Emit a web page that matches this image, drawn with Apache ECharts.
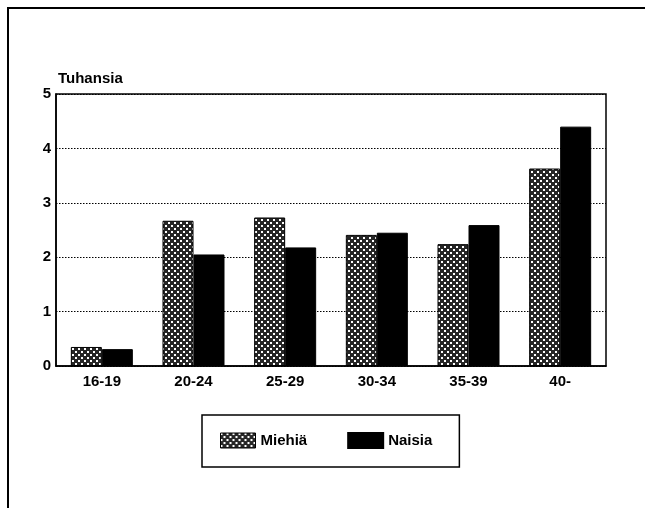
<!DOCTYPE html>
<html>
<head>
<meta charset="utf-8">
<script src="https://cdn.jsdelivr.net/npm/echarts@6/dist/echarts.min.js"></script>
<style>
html,body{margin:0;padding:0;background:#fff;}
#c{width:645px;height:508px;}
</style>
</head>
<body>
<div id="c"></div>
<script>
const categories = ['16-19', '20-24', '25-29', '30-34', '35-39', '40-'];
const miehia = [0.35, 2.67, 2.73, 2.41, 2.24, 3.63];
const naisia = [0.31, 2.05, 2.18, 2.45, 2.59, 4.40];
const yTicks = [0, 1, 2, 3, 4, 5];

function makePattern() {
  const cv = document.createElement('canvas');
  cv.width = 6; cv.height = 6;
  const ctx = cv.getContext('2d');
  ctx.fillStyle = '#262626';
  ctx.fillRect(0, 0, 6, 6);
  ctx.fillStyle = '#fff';
  ctx.fillRect(0, 0, 2, 2);
  ctx.fillRect(3, 3, 2, 2);
  return cv;
}
const pat = makePattern();
const font = '"Liberation Sans", Arial, Helvetica, sans-serif';

const chart = echarts.init(document.getElementById('c'), null, {renderer: 'canvas'});
chart.setOption({
  animation: false,
  backgroundColor: '#fff',
  graphic: [{
    type: 'rect',
    shape: {x: 8, y: 8, width: 700, height: 600},
    style: {fill: 'none', stroke: '#000', lineWidth: 2}
  }],
  grid: {left: 56, right: 39, top: 94, bottom: 142, show: true, borderColor: '#000', borderWidth: 1.5, backgroundColor: 'transparent'},
  legend: {
    left: 202, top: 415,
    orient: 'horizontal',
    icon: 'rect',
    itemWidth: 35, itemHeight: 15, itemGap: 40,
    padding: [17, 27, 18, 18],
    borderColor: '#000', borderWidth: 1.5,
    textStyle: {fontFamily: font, fontWeight: 'bold', fontSize: 15, color: '#000'},
    data: [{name: 'Miehiä', itemStyle: {color: {image: pat, repeat: 'repeat'}, borderColor: '#000', borderWidth: 1}},
           {name: 'Naisia', itemStyle: {color: '#000'}}]
  },
  xAxis: {
    type: 'category',
    data: categories,
    axisLine: {show: true, lineStyle: {color: '#000', width: 1.5}},
    axisTick: {show: false},
    axisLabel: {fontFamily: font, fontWeight: 'bold', fontSize: 15, color: '#000', margin: 8}
  },
  yAxis: {
    type: 'value',
    min: yTicks[0], max: yTicks[yTicks.length - 1], interval: 1,
    name: 'Tuhansia',
    nameLocation: 'end',
    nameGap: 8,
    nameTextStyle: {fontFamily: font, fontWeight: 'bold', fontSize: 15, color: '#000', align: 'left', padding: [0, 0, 0, 2]},
    axisLine: {show: true, lineStyle: {color: '#000', width: 1.5}},
    axisTick: {show: false},
    axisLabel: {fontFamily: font, fontWeight: 'bold', fontSize: 15, color: '#000', margin: 5,
      formatter: v => yTicks.includes(v) ? String(v) : ''},
    splitLine: {show: true, lineStyle: {color: '#000', width: 1, type: [1.5, 1.5]}}
  },
  series: [
    {name: 'Miehiä', type: 'bar', data: miehia, barWidth: 31, barGap: '0%',
     itemStyle: {color: {image: pat, repeat: 'repeat'}, borderColor: '#000', borderWidth: 1}},
    {name: 'Naisia', type: 'bar', data: naisia, barWidth: 31, barGap: '0%',
     itemStyle: {color: '#000', borderColor: '#000', borderWidth: 1}}
  ]
});
</script>
</body>
</html>
